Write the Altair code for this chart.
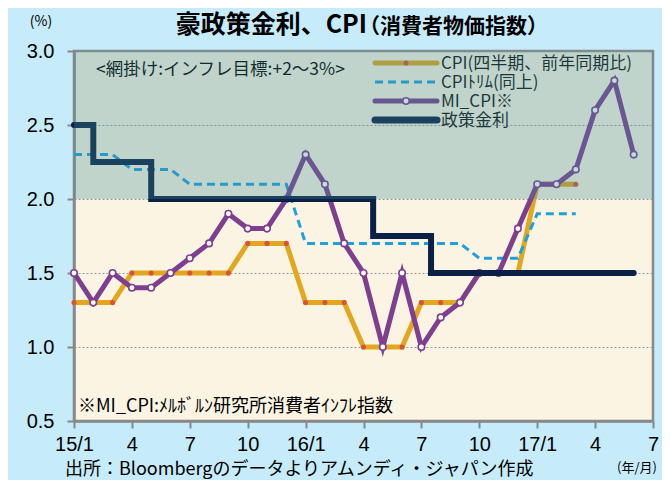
import json
import altair as alt
import pandas as pd

# ---------------- data ----------------
# month index: 0 = 2015/1 ... 29 = 2017/6
mi_cpi = [1.5, 1.3, 1.5, 1.4, 1.4, 1.5, 1.6, 1.7, 1.9, 1.8, 1.8, 2.0,
          2.3, 2.1, 1.7, 1.5, 1.0, 1.5, 1.0, 1.2, 1.3, 1.5, 1.5, 1.8,
          2.1, 2.1, 2.2, 2.6, 2.8, 2.3]
cpi = [1.3, 1.3, 1.3, 1.5, 1.5, 1.5, 1.5, 1.5, 1.5, 1.7, 1.7, 1.7,
       1.3, 1.3, 1.3, 1.0, 1.0, 1.0, 1.3, 1.3, 1.3, 1.5, 1.5, 1.5,
       2.1, 2.1, 2.1]
cpi_trim = [2.3, 2.3, 2.3, 2.2, 2.2, 2.2, 2.1, 2.1, 2.1, 2.1, 2.1, 2.1,
            1.7, 1.7, 1.7, 1.7, 1.7, 1.7, 1.7, 1.7, 1.7, 1.6, 1.6, 1.6,
            1.9, 1.9, 1.9]
policy_month = [0, 1, 4, 15.5, 18.5, 29]
policy_rate = [2.5, 2.25, 2.0, 1.75, 1.5, 1.5]

target_low, target_high = 2.0, 3.0

tick_months = [0, 3, 6, 9, 12, 15, 18, 21, 24, 27, 30]
tick_labels = ["15/1", "4", "7", "10", "16/1", "4", "7", "10", "17/1", "4", "7"]
y_ticks = [0.5, 1.0, 1.5, 2.0, 2.5, 3.0]

names = ["CPI(四半期、前年同期比)", "CPIﾄﾘﾑ(同上)", "MI_CPI※", "政策金利"]

title_main = "豪政策金利、CPI"
title_sub = "（消費者物価指数）"
unit_label = "(%)"
x_unit = "(年/月)"
band_note = "<網掛け:インフレ目標:+2〜3%>"
mi_note = "※MI_CPI:ﾒﾙﾎﾞﾙﾝ研究所消費者ｲﾝﾌﾚ指数"
source = "出所：Bloombergのデータよりアムンディ・ジャパン作成"

# ---------------- styling ----------------
W, H = 579, 370
C_CPI = "#e2a71f"
C_DOT = "#d6543a"
C_TRIM = "#1ea0dc"
C_MI = "#7e3f8f"
C_POL = "#0b2046"
FONT = "Noto Sans CJK JP"
NUMF = "Liberation Sans"

df_mi = pd.DataFrame({"m": list(range(len(mi_cpi))), "v": mi_cpi})
df_cpi = pd.DataFrame({"m": list(range(len(cpi))), "v": cpi})
df_trim = pd.DataFrame({"m": list(range(len(cpi_trim))), "v": cpi_trim})
df_pol = pd.DataFrame({"m": policy_month, "v": policy_rate})
df_band = pd.DataFrame({"lo": [target_low], "hi": [target_high]})

label_expr = json.dumps(tick_labels) + "[round(datum.value / 3)]"

x_enc = alt.X("m:Q",
              scale=alt.Scale(domain=[0, 30], nice=False, zero=False),
              axis=alt.Axis(values=tick_months, labelExpr=label_expr, title=None,
                            grid=False, labelFont=NUMF, labelFontSize=20,
                            labelColor="#000", tickSize=7, tickWidth=2,
                            tickColor="#888", domainColor="#888", domainWidth=2.5,
                            labelPadding=6, labelFlush=False, labelOverlap=False))
y_axis = alt.Axis(values=y_ticks, format=".1f", title=None, grid=True,
                  gridDash=[2, 2], gridColor="#999", gridWidth=1,
                  labelFont=NUMF, labelFontSize=20, labelColor="#000",
                  tickSize=7, tickWidth=2, tickColor="#888",
                  domainColor="#888", domainWidth=2.5, labelPadding=13)
y_scale = alt.Scale(domain=[0.5, 3.0], nice=False, zero=False)
y_enc = alt.Y("v:Q", scale=y_scale, axis=y_axis)

cpi_line = alt.Chart(df_cpi).mark_line(color=C_CPI, strokeWidth=5).encode(x=x_enc, y=y_enc)
cpi_pts = alt.Chart(df_cpi).mark_circle(color=C_DOT, size=26, opacity=1).encode(x=x_enc, y=y_enc)
trim_line = alt.Chart(df_trim).mark_line(color=C_TRIM, strokeWidth=3,
                                         strokeDash=[8, 5]).encode(x=x_enc, y=y_enc)
mi_line = alt.Chart(df_mi).mark_line(color=C_MI, strokeWidth=5).encode(x=x_enc, y=y_enc)
mi_pts = alt.Chart(df_mi).mark_point(shape="circle", filled=True, fill="white", stroke=C_MI,
                                      strokeWidth=1.6, size=42, opacity=1).encode(x=x_enc, y=y_enc)
pol_line = alt.Chart(df_pol).mark_line(color=C_POL, strokeWidth=6, interpolate="step-after",
                                       strokeCap="round").encode(x=x_enc, y=y_enc)

band = alt.Chart(df_band).mark_rect(color="#3e8d99", opacity=0.31).encode(
    y=alt.Y("lo:Q", scale=y_scale, axis=y_axis), y2="hi:Q",
    x=alt.value(0), x2=alt.value(W))

# ---------------- manual legend (drawn under the band like the original) ----------------
LX1, LX2, LTX = 301, 363, 367
rows = [12, 31, 50, 69]
legend_layers = []
specs = [
    dict(color=C_CPI, width=5, dash=None, dot="cpi"),
    dict(color=C_TRIM, width=3, dash=[8, 5], dot=None),
    dict(color=C_MI, width=5, dash=None, dot="mi"),
    dict(color=C_POL, width=7, dash=None, dot=None),
]
for name, ry, sp in zip(names, rows, specs):
    d = pd.DataFrame({"name": [name]})
    kw = dict(color=sp["color"], strokeWidth=sp["width"], strokeCap="round" if sp["dash"] is None else "butt")
    if sp["dash"]:
        kw["strokeDash"] = sp["dash"]
    legend_layers.append(alt.Chart(d).mark_rule(**kw).encode(
        x=alt.value(LX1), x2=alt.value(LX2), y=alt.value(ry)))
    if sp["dot"] == "cpi":
        legend_layers.append(alt.Chart(d).mark_circle(color=C_DOT, size=26, opacity=1).encode(
            x=alt.value((LX1 + LX2) / 2), y=alt.value(ry)))
    if sp["dot"] == "mi":
        legend_layers.append(alt.Chart(d).mark_point(shape="circle", filled=True, fill="white",
                                                      stroke=C_MI, strokeWidth=1.6, size=42,
                                                      opacity=1).encode(
            x=alt.value((LX1 + LX2) / 2), y=alt.value(ry)))
    legend_layers.append(alt.Chart(d).mark_text(align="left", baseline="middle", font=FONT,
                                                fontSize=17, color="#111").encode(
        x=alt.value(LTX), y=alt.value(ry + 1), text="name:N"))


def label(txt, x, y, size, align="left", baseline="middle", weight="normal", font=FONT):
    return alt.Chart(pd.DataFrame({"t": [txt]})).mark_text(
        align=align, baseline=baseline, font=font, fontSize=size, fontWeight=weight,
        color="#000").encode(x=alt.value(x), y=alt.value(y), text="t:N")


note_band = label(band_note, 22, 19, 17.5)
note_mi = label(mi_note, 4, 356, 18)
t_main = label(title_main, 293, -18, 25, align="right", baseline="alphabetic", weight="bold")
t_sub = label(title_sub, 285, -18, 21, align="left", baseline="alphabetic", weight="bold")
t_unit = label(unit_label, -33, -29, 14, align="center")
t_xunit = label(x_unit, 563, 417, 13, align="center")
t_src = label(source, -9, 419, 18)

chart = alt.layer(
    cpi_line, cpi_pts, trim_line, mi_line, mi_pts, pol_line,
    *legend_layers, note_band, band,
    note_mi, t_main, t_sub, t_unit, t_xunit, t_src,
).properties(
    width=W, height=H, background="#c6ebfb",
    padding={"left": 66, "top": 43, "right": 9, "bottom": 59},
    autosize=alt.AutoSizeParams(type="none"),
).configure_view(fill="#fbf4e3", stroke="#888", strokeWidth=2.5)

chart.save("out.html", embed_options={"renderer": "svg", "actions": False})
